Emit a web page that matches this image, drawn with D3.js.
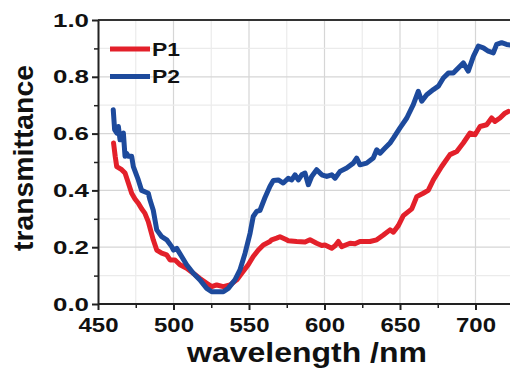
<!DOCTYPE html>
<html>
<head>
<meta charset="utf-8">
<script src="https://cdn.jsdelivr.net/npm/d3@7"></script>
<style>
  body { margin: 0; background: #fff; }
  text { font-family: "Liberation Sans", Arial, sans-serif; font-weight: bold; fill: #111; }
</style>
</head>
<body>
<div id="chart"></div>
<script>
// series names
const seriesNames = ["P1", "P2"]

// wavelength (nm) and transmittance
const p1Wavelength = [460.3, 461.4, 462.4, 465.7, 467.9, 470.1, 472.3, 474.5, 476.7, 478.9, 481, 483.3, 486.6, 488.9, 492.2, 495.5, 497.7, 501, 504.3, 508.7, 513.1, 517.5, 522, 525.3, 528.6, 533, 537.4, 541.9, 545.2, 549.5, 552.8, 556.2, 559.5, 563.9, 565, 568.3, 570.5, 574.9, 576, 581.6, 587.1, 590.4, 594.8, 598.2, 600.3, 604.8, 607, 609.2, 611.4, 616.9, 620.2, 623.5, 630.1, 634.6, 639, 643.4, 645.6, 648.9, 652.2, 657.8, 661.1, 665.4, 668.7, 672.1, 677.6, 683.1, 687.6, 691.9, 696.4, 699.7, 703, 707.4, 710.7, 712.9, 716.2, 719.5, 721.7]
const p1Values = [0.567, 0.52, 0.484, 0.473, 0.461, 0.426, 0.39, 0.37, 0.355, 0.335, 0.32, 0.29, 0.226, 0.19, 0.179, 0.173, 0.155, 0.155, 0.138, 0.126, 0.108, 0.09, 0.073, 0.061, 0.067, 0.061, 0.067, 0.085, 0.108, 0.138, 0.167, 0.19, 0.208, 0.22, 0.226, 0.232, 0.237, 0.226, 0.223, 0.22, 0.218, 0.226, 0.214, 0.206, 0.208, 0.196, 0.205, 0.22, 0.202, 0.214, 0.212, 0.22, 0.22, 0.226, 0.243, 0.261, 0.253, 0.276, 0.311, 0.335, 0.378, 0.39, 0.40, 0.437, 0.484, 0.526, 0.537, 0.567, 0.602, 0.596, 0.625, 0.631, 0.655, 0.643, 0.655, 0.672, 0.678]

const p2Wavelength = [460.1, 461, 462.4, 463.5, 464.6, 466.8, 467.9, 469, 470.1, 472.3, 473.4, 476.7, 478.9, 483.3, 484.4, 486.6, 488.9, 492.2, 495.5, 498.8, 500, 502.1, 505.4, 508.7, 513.1, 517.5, 522, 525.3, 529.7, 533, 536.3, 540.7, 544, 547.4, 550.7, 552.8, 555.1, 557.3, 560.6, 563.9, 566.1, 569.4, 572.7, 576, 578.3, 580.5, 582.7, 584.9, 587.1, 589.3, 591.5, 594.8, 598.2, 601.5, 604.8, 607, 610.3, 614.7, 619.1, 621.3, 623.5, 627.9, 632.3, 634.6, 636.8, 640.1, 643.4, 645.6, 650, 654.5, 658.8, 662.1, 664.4, 667.7, 672.1, 675.4, 678.7, 682, 685.3, 688.6, 691.9, 695.2, 698.6, 701.9, 705.2, 708.5, 711.8, 714, 717.3, 720.6, 723]
const p2Values = [0.684, 0.614, 0.602, 0.625, 0.578, 0.602, 0.52, 0.53, 0.52, 0.52, 0.484, 0.437, 0.40, 0.39, 0.367, 0.33, 0.261, 0.237, 0.226, 0.202, 0.19, 0.196, 0.167, 0.138, 0.108, 0.085, 0.055, 0.043, 0.043, 0.043, 0.055, 0.085, 0.12, 0.179, 0.249, 0.308, 0.326, 0.33, 0.375, 0.415, 0.435, 0.437, 0.426, 0.443, 0.437, 0.455, 0.437, 0.455, 0.461, 0.42, 0.449, 0.473, 0.455, 0.449, 0.455, 0.443, 0.467, 0.479, 0.496, 0.514, 0.49, 0.496, 0.514, 0.543, 0.531, 0.549, 0.567, 0.584, 0.62, 0.655, 0.702, 0.749, 0.714, 0.737, 0.755, 0.767, 0.796, 0.813, 0.813, 0.831, 0.849, 0.82, 0.872, 0.908, 0.902, 0.89, 0.884, 0.914, 0.92, 0.914, 0.912]

// tick labels
const xTicks = [450, 500, 550, 600, 650, 700]
const yTicks = [0.0, 0.2, 0.4, 0.6, 0.8, 1.0]

const width = 510
const height = 368
const marginLeft = 98, plotTop = 20, plotBottom = 304

const svg = d3.select("#chart")
  .append("svg")
    .attr("width", width)
    .attr("height", height)

const x = d3.scaleLinear()
  .domain([450, 725])
  .range([marginLeft, marginLeft + 275 * 75.5 / 50])

const y = d3.scaleLinear()
  .domain([0, 1])
  .range([plotBottom, plotTop])

const color = d3.scaleOrdinal()
  .domain(seriesNames)
  .range(["#e3202a", "#1d4a9c"])

// grid: minor every 25 nm / 0.1, major every 50 nm / 0.2
const grid = svg.append("g")
d3.range(475, 726, 25).forEach(v => {
  grid.append("line")
    .attr("x1", x(v)).attr("x2", x(v))
    .attr("y1", plotTop).attr("y2", plotBottom)
    .attr("stroke", v % 50 === 0 ? "#d6d6d6" : "#ebebeb")
    .attr("stroke-width", 1.2)
})
d3.range(1, 10).forEach(i => {
  grid.append("line")
    .attr("x1", marginLeft).attr("x2", width)
    .attr("y1", y(i / 10)).attr("y2", y(i / 10))
    .attr("stroke", i % 2 === 0 ? "#d6d6d6" : "#ebebeb")
    .attr("stroke-width", 1.2)
})

// top frame line
svg.append("line")
  .attr("x1", marginLeft).attr("x2", width)
  .attr("y1", plotTop).attr("y2", plotTop)
  .attr("stroke", "#333")
  .attr("stroke-width", 2)

// curves
const line = d3.line()
  .x(d => x(d[0]))
  .y(d => y(d[1]))

const series = [
  { name: "P1", points: d3.zip(p1Wavelength, p1Values) },
  { name: "P2", points: d3.zip(p2Wavelength, p2Values) }
]

svg.append("g")
  .selectAll("path")
  .data(series)
  .join("path")
    .attr("d", d => line(d.points))
    .attr("fill", "none")
    .attr("stroke", d => color(d.name))
    .attr("stroke-width", 5)
    .attr("stroke-linejoin", "round")
    .attr("stroke-linecap", "round")

// minor ticks
const xMinor = d3.axisBottom(x).tickValues(d3.range(475, 726, 50)).tickSize(4).tickFormat("")
const yMinor = d3.axisLeft(y).tickValues([0.1, 0.3, 0.5, 0.7, 0.9]).tickSize(4).tickFormat("")
svg.append("g").attr("transform", `translate(0,${plotBottom})`).call(xMinor)
  .call(g => g.select(".domain").remove())
  .selectAll("line").attr("stroke", "#222").attr("stroke-width", 1.5)
svg.append("g").attr("transform", `translate(${marginLeft},0)`).call(yMinor)
  .call(g => g.select(".domain").remove())
  .selectAll("line").attr("stroke", "#222").attr("stroke-width", 1.5)

// major axes
const xAxis = svg.append("g")
  .attr("transform", `translate(0,${plotBottom})`)
  .call(d3.axisBottom(x).tickValues(xTicks).tickSize(6).tickSizeOuter(0).tickPadding(7))
xAxis.select(".domain").attr("stroke", "#222").attr("stroke-width", 2)
  .attr("d", `M${marginLeft},0H${width}`)
xAxis.selectAll("line").attr("stroke", "#222").attr("stroke-width", 2)
xAxis.selectAll("text")
  .attr("font-size", 21)
  .attr("textLength", 40)
  .attr("lengthAdjust", "spacingAndGlyphs")
xAxis.attr("font-family", null)

const yAxis = svg.append("g")
  .attr("transform", `translate(${marginLeft},0)`)
  .call(d3.axisLeft(y).tickValues(yTicks).tickSize(6).tickSizeOuter(0).tickPadding(3).tickFormat(d3.format(".1f")))
yAxis.select(".domain").attr("stroke", "#222").attr("stroke-width", 2)
yAxis.selectAll("line").attr("stroke", "#222").attr("stroke-width", 2)
yAxis.selectAll("text")
  .attr("font-size", 19)
  .attr("textLength", 36)
  .attr("lengthAdjust", "spacingAndGlyphs")
yAxis.attr("font-family", null)

// axis titles
svg.append("text")
  .attr("x", 307)
  .attr("y", 362)
  .attr("text-anchor", "middle")
  .attr("font-size", 27)
  .attr("textLength", 240)
  .attr("lengthAdjust", "spacingAndGlyphs")
  .text("wavelength /nm")

svg.append("text")
  .attr("transform", "translate(33,158) rotate(-90)")
  .attr("text-anchor", "middle")
  .attr("font-size", 27)
  .attr("textLength", 186)
  .attr("lengthAdjust", "spacingAndGlyphs")
  .text("transmittance")

// legend
const legend = svg.append("g")
  .selectAll("g")
  .data(seriesNames)
  .join("g")
    .attr("transform", (d, i) => `translate(110,${49 + i * 27.5})`)
legend.append("line")
  .attr("x1", 0).attr("x2", 40)
  .attr("stroke", d => color(d))
  .attr("stroke-width", 5)
legend.append("text")
  .attr("x", 42)
  .attr("y", 6.5)
  .attr("font-size", 18)
  .attr("textLength", 28)
  .attr("lengthAdjust", "spacingAndGlyphs")
  .text(d => d)
</script>
</body>
</html>
